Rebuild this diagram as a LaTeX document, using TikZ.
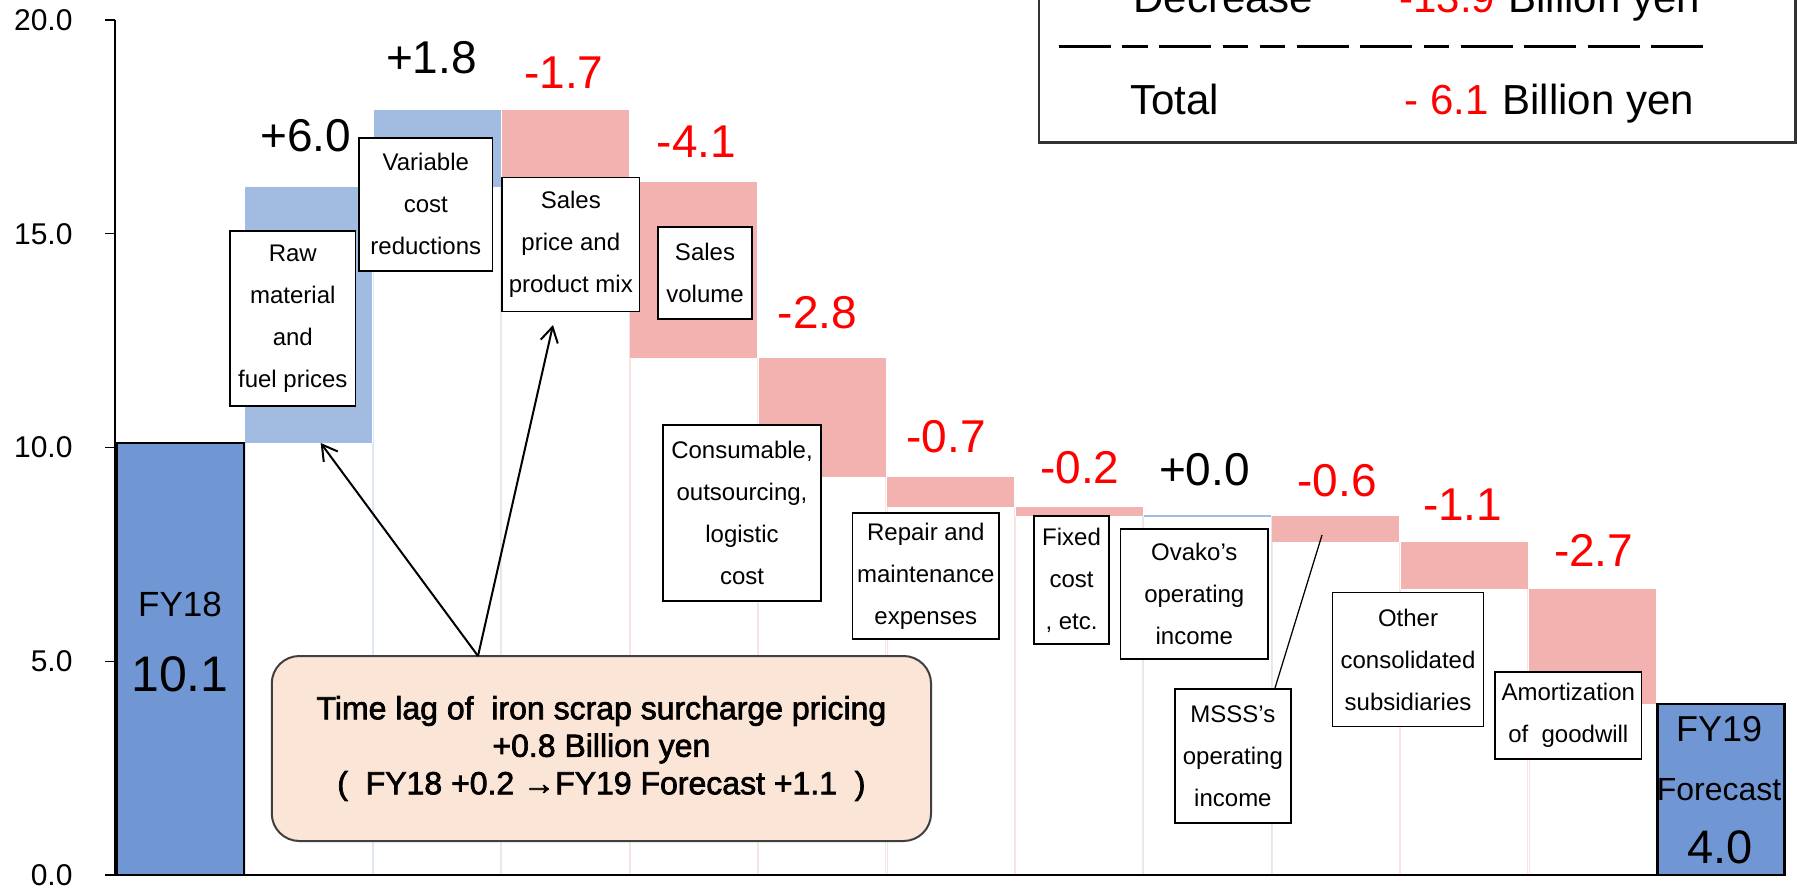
\documentclass[tikz,border=0pt]{standalone}
\usepackage{fontspec}
\setmainfont{Liberation Sans}
\newfontfamily\heavyfont{Liberation Sans}[FakeBold=2.2]
\usepackage{xcolor}
\usetikzlibrary{arrows.meta}
\definecolor{fyblue}{RGB}{112,151,211}
\definecolor{incblue}{RGB}{161,187,225}
\definecolor{decpink}{RGB}{242,178,176}
\definecolor{lagfill}{RGB}{251,229,214}
\tikzset{
  fybar/.style={fill=fyblue, draw=black, line width=1pt},
  incbar/.style={fill=incblue},
  decbar/.style={fill=decpink},
  lbl/.style={rectangle, draw=black, line width=0.6pt, fill=white, align=center,
    inner sep=0pt, font=\fontsize{9.6}{16.8}\selectfont},
  valplus/.style={anchor=base, inner sep=0pt, font=\fontsize{18.4}{20}\selectfont},
  valminus/.style={valplus, text=red},
  ticklab/.style={anchor=east, inner sep=0pt, font=\fontsize{12}{14}\selectfont},
  fytxt/.style={anchor=base, inner sep=0pt},
  legtxt/.style={anchor=base west, inner sep=0pt, font=\fontsize{16.8}{20}\selectfont},
  legbox/.style={draw=black!80, line width=1pt, fill=white},
  callout/.style={rectangle, rounded corners=11pt, draw=black!75, line width=0.8pt,
    fill=lagfill, align=center, inner sep=0pt, font=\heavyfont\fontsize{12.8}{15}\selectfont},
  arr/.style={-{Straight Barb[length=6pt,width=7pt]}, line width=0.8pt},
  lead/.style={line width=0.5pt},
}

\begin{document}
\begin{tikzpicture}[x=0.4pt, y=-0.4pt]
  \useasboundingbox (0,0) rectangle (1797,891);
  \clip (0,0) rectangle (1797,891);

  % waterfall bars, one unit per column and per billion yen
  \begin{scope}[shift={(116.7,875)}, x=51.36pt, y=17.1pt]
    \foreach \i/\b/\c in {1/10.1/incblue, 2/16.1/incblue, 3/16.2/decpink, 4/12.1/decpink,
        5/9.3/decpink, 6/8.6/decpink, 7/8.4/decpink, 8/8.4/incblue, 9/7.8/decpink,
        10/6.7/decpink, 11/4.0/decpink}
      \draw[color=\c!35, line width=0.4pt] (\i,0) -- (\i,\b) (\i+0.99,0) -- (\i+0.99,\b);
    \draw[fybar] (0,0) rectangle (0.99,10.1);
    \fill[incbar] (1,10.1) rectangle (1.99,16.1);
    \fill[incbar] (2,16.1) rectangle (2.99,17.9);
    \fill[decbar] (3,17.9) rectangle (3.99,16.2);
    \fill[decbar] (4,16.2) rectangle (4.99,12.1);
    \fill[decbar] (5,12.1) rectangle (5.99,9.3);
    \fill[decbar] (6,9.3) rectangle (6.99,8.6);
    \fill[decbar] (7,8.6) rectangle (7.99,8.4);
    \draw[incblue, line width=0.8pt] (8,8.4) -- (8.99,8.4);
    \fill[decbar] (9,8.4) rectangle (9.99,7.8);
    \fill[decbar] (10,7.8) rectangle (10.99,6.7);
    \fill[decbar] (11,6.7) rectangle (11.99,4.0);
    \draw[fybar] (12,0) rectangle (12.99,4.0);
  \end{scope}

  % axes
  \draw[line width=0.6pt] (115,20) -- (115,875);
  \draw[line width=0.6pt] (105,875) -- (1786,875);
  \foreach \v/\t in {0/0.0, 5/5.0, 10/10.0, 15/15.0, 20/20.0} {
    \draw[line width=0.6pt] (105,{875-42.75*\v}) -- (115,{875-42.75*\v});
    \node[ticklab] (tick\v) at (73,{875-42.75*\v}) {\t};
  }

  % totals inside the end bars
  \node[fytxt, font=\fontsize{14}{16}\selectfont] (fy18) at (180,616.7) {FY18};
  \node[fytxt, font=\fontsize{20}{22}\selectfont] (fy18val) at (180,691.7) {10.1};
  \node[fytxt, font=\fontsize{14.4}{16}\selectfont] (fy19) at (1719,741.7) {FY19};
  \node[fytxt, font=\fontsize{12.8}{15}\selectfont] (fy19fc) at (1719,800) {Forecast};
  \node[fytxt, font=\fontsize{18.8}{20}\selectfont] (fy19val) at (1720,863.3) {4.0};

  % change values
  \node[valplus] (d1) at (305.8,151.7) {+6.0};
  \node[valplus] (d2) at (431.5,74) {+1.8};
  \node[valminus] (d3) at (563.8,88.3) {-1.7};
  \node[valminus] (d4) at (696.4,157.3) {-4.1};
  \node[valminus] (d5) at (817.6,328.3) {-2.8};
  \node[valminus] (d6) at (946,452.7) {-0.7};
  \node[valminus] (d7) at (1079.9,483.3) {-0.2};
  \node[valplus] (d8) at (1204.5,485) {+0.0};
  \node[valminus] (d9) at (1337,496) {-0.6};
  \node[valminus] (d10) at (1462.7,520) {-1.1};
  \node[valminus] (d11) at (1593.7,566.7) {-2.7};

  % factor boxes
  \node[lbl, minimum width=50.2pt, minimum height=70pt] (raw) at (292.8,318.5) {Raw\\material\\and\\fuel prices};
  \node[lbl, minimum width=53.4pt, minimum height=53.3pt] (var) at (425.8,204.4) {Variable\\cost\\reductions};
  \node[lbl, minimum width=55pt, minimum height=53.6pt] (price) at (570.8,244.7) {Sales\\price and\\product mix};
  \node[lbl, minimum width=37.6pt, minimum height=36.8pt] (vol) at (705,273) {Sales\\volume};
  \node[lbl, minimum width=63.2pt, minimum height=70.4pt] (cons) at (742,513) {Consumable,\\outsourcing,\\logistic\\cost};
  \node[lbl, minimum width=58.6pt, minimum height=50.4pt] (repair) at (925.8,576) {Repair and\\maintenance\\expenses};
  \node[lbl, minimum width=30pt, minimum height=51.2pt] (fixed) at (1071.5,580) {Fixed\\cost\\, etc.};
  \node[lbl, minimum width=59pt, minimum height=52.1pt] (ovako) at (1194.3,593.9) {Ovako's\\operating\\income};
  \node[lbl, minimum width=46.5pt, minimum height=53.6pt] (msss) at (1232.9,756) {MSSS's\\operating\\income};
  \node[lbl, minimum width=60.4pt, minimum height=53.6pt] (other) at (1408,659.7) {Other\\consolidated\\subsidiaries};
  \node[lbl, minimum width=58.6pt, minimum height=34.9pt] (amort) at (1568.3,715.4) {Amortization\\of\ \ goodwill};

  % time lag callout
  \node[callout, minimum width=263.7pt, minimum height=74pt] (lag) at (601.4,748.5)
    {Time lag of\ \ iron scrap surcharge pricing\\+0.8 Billion yen\\(\ \ FY18 +0.2 →FY19 Forecast +1.1\ \ )};
  \coordinate (lagtop) at (478,656);
  \coordinate (rawfoot) at (320.7,443);
  \coordinate (pricefoot) at (553,325);
  \draw[arr] (lagtop) -- (rawfoot);
  \draw[arr] (lagtop) -- (pricefoot);

  \coordinate (msssbar) at (1322,535);
  \draw[lead] ([xshift=16.8pt]msss.north) -- (msssbar);

  % summary box, cut at the top
  \draw[legbox] (1039,-40) rectangle (1795.5,142.5);
  \node[legtxt] (dec) at (1133,13) {Decrease};
  \node[legtxt, text=red] (decval) at (1399,13) {-13.9};
  \node[legtxt] (decunit) at (1508,13) {Billion yen};
  \draw[line width=1.3pt, dash pattern={on 20.8pt off 4.6pt on 10.2pt off 4.6pt on 20.8pt off 4.6pt
      on 10.2pt off 4.6pt on 10.2pt off 4.6pt on 20.8pt off 4.6pt on 20.8pt off 4.6pt on 10.2pt off 4.6pt
      on 20.8pt off 4.6pt on 20.8pt off 4.6pt on 20.8pt off 4.6pt on 20.8pt off 20pt}]
    (1058.5,46.7) -- (1704,46.7);
  \node[legtxt] (tot) at (1129.6,115) {Total};
  \node[legtxt, text=red] (totval) at (1404,115) {- 6.1};
  \node[legtxt] (totunit) at (1502,115) {Billion yen};
\end{tikzpicture}
\end{document}
